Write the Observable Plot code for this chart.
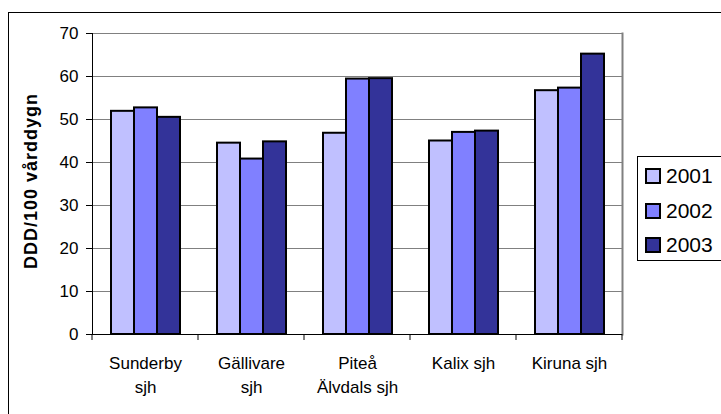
<!DOCTYPE html>
<html>
<head>
<meta charset="utf-8">
<script src="https://cdn.jsdelivr.net/npm/d3@7"></script>
<script src="https://cdn.jsdelivr.net/npm/@observablehq/plot@0.6"></script>
<style>
  html, body { margin: 0; padding: 0; background: #fff; overflow: hidden; }
  body { width: 721px; height: 414px; position: relative; font-family: "Liberation Sans", Arial, sans-serif; }
  #outer { position: absolute; left: 8px; top: 12px; width: 800px; height: 500px; border: 1px solid #000; box-sizing: border-box; }
  #chart { position: absolute; left: 0; top: 0; }
  #ytitle { position: absolute; left: 31px; top: 181px; transform: translate(-50%, -50%) rotate(-90deg); white-space: nowrap;
            font-weight: bold; font-size: 18px; letter-spacing: 1px; color: #000; }
  #legend { position: absolute; left: 637px; top: 156px; width: 120px; height: 105px; border: 1px solid #000; box-sizing: border-box; background: #fff; }
  .item { position: absolute; left: 7px; height: 20px; display: flex; align-items: center; }
  .sw { width: 12px; height: 12px; border: 2px solid #000; }
  .lbl { margin-left: 5px; font-size: 21px; color: #000; }
</style>
</head>
<body>
<div id="outer"></div>
<div id="chart"></div>
<div id="ytitle">DDD/100 vårddygn</div>
<div id="legend"></div>
<script>
const categories = ["Sunderby sjh", "Gällivare sjh", "Piteå Älvdals sjh", "Kalix sjh", "Kiruna sjh"];
const tickLabels = ["Sunderby\nsjh", "Gällivare\nsjh", "Piteå\nÄlvdals sjh", "Kalix sjh", "Kiruna sjh"];
const years = ["2001", "2002", "2003"];
const v2001 = [51.9, 44.5, 46.8, 45.0, 56.7];
const v2002 = [52.7, 40.8, 59.4, 47.0, 57.3];
const v2003 = [50.5, 44.8, 59.5, 47.3, 65.2];
const colors = ["#C0C0FF", "#8080FF", "#333399"];
const yTicks = [0, 10, 20, 30, 40, 50, 60, 70];

const series = [v2001, v2002, v2003];
const data = [];
categories.forEach((c, i) => years.forEach((y, j) => data.push({cat: c, year: y, value: series[j][i]})));

const plot = Plot.plot({
  width: 721,
  height: 414,
  marginLeft: 91,
  marginRight: 99,
  marginTop: 33,
  marginBottom: 80,
  style: {fontFamily: "'Liberation Sans', Arial, sans-serif", fontSize: "17px", color: "#000", background: "transparent", overflow: "visible"},
  fx: {domain: categories, padding: 0, label: null},
  x: {domain: years, paddingInner: 0, paddingOuter: 0.75, axis: null},
  y: {domain: [0, 70], ticks: yTicks, label: null},
  color: {domain: years, range: colors},
  marks: [
    Plot.ruleY(yTicks.slice(1), {stroke: "#808080", strokeWidth: 1}),
    Plot.frame({anchor: "right", facetAnchor: "right", stroke: "#808080", strokeWidth: 2}),
    Plot.barY(data, {fx: "cat", x: "year", y: "value", fill: "year", stroke: "#000", strokeWidth: 2, inset: 0}),
    Plot.ruleY([0], {stroke: "#000", strokeWidth: 1}),
    Plot.frame({anchor: "left", facetAnchor: "left", stroke: "#000", strokeWidth: 1}),
    Plot.axisY({ticks: yTicks, tickSize: 6, tickPadding: 8, stroke: "#000", fontSize: 17, label: null}),
    Plot.axisFx({anchor: "bottom", tickSize: 0, tickPadding: 18, fontSize: 17, lineHeight: 1.38, label: null,
                 tickFormat: d => tickLabels[categories.indexOf(d)]})
  ]
});
document.getElementById("chart").appendChild(plot);

// category boundary ticks below the x axis, computed from Plot's own scales
const fx = plot.scale("fx");
const ys = plot.scale("y");
const y0 = ys.apply(0);
const bounds = categories.map(c => fx.apply(c));
bounds.push(fx.apply(categories[categories.length - 1]) + fx.bandwidth);
const svg = d3.select(plot);
svg.append("g").selectAll("line").data(bounds).join("line")
  .attr("x1", d => d).attr("x2", d => d)
  .attr("y1", y0).attr("y2", y0 + 6)
  .attr("stroke", "#000").attr("stroke-width", 1);

// legend
const legend = d3.select("#legend");
const centers = [19, 53.5, 88];
years.forEach((y, i) => {
  const it = legend.append("div").attr("class", "item").style("top", (centers[i] - 10) + "px");
  it.append("div").attr("class", "sw").style("background", colors[i]);
  it.append("div").attr("class", "lbl").text(y);
});
</script>
</body>
</html>
